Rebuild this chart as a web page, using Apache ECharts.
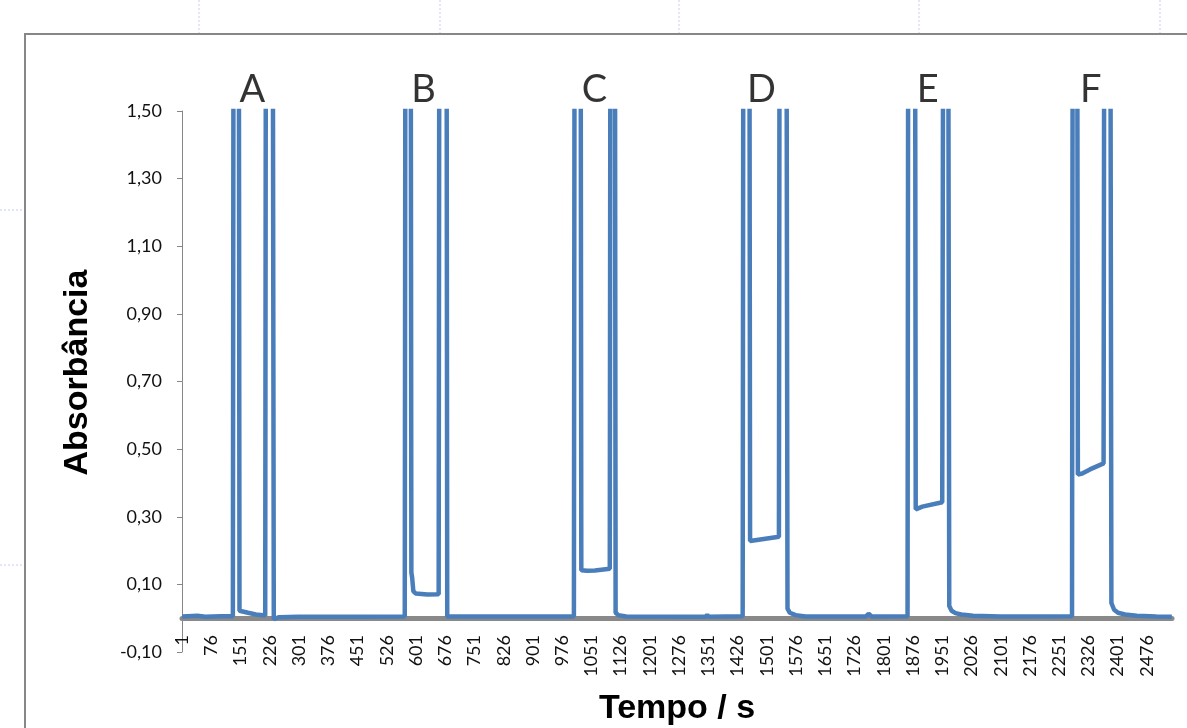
<!DOCTYPE html>
<html>
<head>
<meta charset="utf-8">
<script src="https://cdn.jsdelivr.net/npm/echarts@6/dist/echarts.min.js"></script>
<style>
  html, body { margin: 0; padding: 0; background: #fff; }
  #chart { width: 1187px; height: 728px; }
</style>
</head>
<body>
<div id="chart"></div>
<script>
// pontos (tempo em s, absorbância); valores > 1,50 saem da escala
var tempo = [
  1, 40, 60, 100, 131,
  133, 146, 148, 170, 190, 214, 216, 233, 236, 250, 300, 450, 455, 460, 572,
  574, 587, 589, 591, 594, 600, 630, 659, 661, 679, 681, 800, 1006,
  1008, 1023, 1025, 1040, 1060, 1098, 1100, 1111, 1113, 1120, 1140, 1300, 1344, 1348, 1352, 1439,
  1441, 1456, 1458, 1480, 1532, 1534, 1551, 1554, 1560, 1575, 1600, 1755, 1762, 1770, 1862,
  1864, 1881, 1883, 1900, 1951, 1954, 1966, 1969, 1975, 1985, 2000, 2030, 2100, 2284,
  2286, 2297, 2299, 2310, 2330, 2365, 2367, 2382, 2385, 2392, 2402, 2420, 2450, 2500, 2540
];
var absorbancia = [
  0.005, 0.007, 0.004, 0.006, 0.006,
  2.2, 2.2, 0.022, 0.016, 0.011, 0.008, 2.2, 2.2, -0.003, 0.003, 0.004, 0.004, 0.008, 0.004, 0.005,
  2.2, 2.2, 0.135, 0.12, 0.08, 0.073, 0.07, 0.071, 2.2, 2.2, 0.005, 0.005, 0.005,
  2.2, 2.2, 0.142, 0.14, 0.141, 0.146, 2.2, 2.2, 0.016, 0.009, 0.005, 0.004, 0.004, 0.01, 0.004, 0.006,
  2.2, 2.2, 0.228, 0.232, 0.241, 2.2, 2.2, 0.028, 0.016, 0.009, 0.005, 0.005, 0.013, 0.005, 0.006,
  2.2, 2.2, 0.322, 0.33, 0.343, 2.2, 2.2, 0.036, 0.022, 0.015, 0.011, 0.007, 0.005, 0.006,
  2.2, 2.2, 0.425, 0.428, 0.44, 0.458, 2.2, 2.2, 0.045, 0.025, 0.016, 0.011, 0.007, 0.005, 0.004
];

var xTicks = [1, 76, 151, 226, 301, 376, 451, 526, 601, 676, 751, 826, 901, 976,
  1051, 1126, 1201, 1276, 1351, 1426, 1501, 1576, 1651, 1726, 1801, 1876, 1951,
  2026, 2101, 2176, 2251, 2326, 2401, 2476];
var yTicks = [-0.1, 0.1, 0.3, 0.5, 0.7, 0.9, 1.1, 1.3, 1.5];

var letras = ['A', 'B', 'C', 'D', 'E', 'F'];
var letraTempo = [181, 620, 1059, 1487, 1914, 2332];

var chart = echarts.init(document.getElementById('chart'));

var serie = tempo.map(function (t, i) { return [t, absorbancia[i]]; });
var letraPts = letraTempo.map(function (t, i) { return { value: [t, 1.5], name: letras[i] }; });

var labelFont = 'Lato, "DejaVu Sans", sans-serif';

var option = {
  backgroundColor: '#fff',
  animation: false,
  grid: { left: 182, right: 15, top: 111, bottom: 76, containLabel: false, outerBoundsMode: 'none' },
  xAxis: {
    type: 'value',
    min: 0.5,
    max: 2540.5,
    name: 'Tempo / s',
    nameLocation: 'middle',
    nameGap: 40,
    nameMoveOverlap: false,
    nameTextStyle: { fontFamily: '"Liberation Sans", Arial, sans-serif', fontWeight: 'bold', fontSize: 34, color: '#000' },
    axisLine: { onZero: true, lineStyle: { color: '#898989', width: 5 } },
    axisTick: { show: false },
    splitLine: { show: false },
    axisLabel: {
      customValues: xTicks,
      rotate: 90,
      margin: -17,
      fontFamily: labelFont,
      fontSize: 18,
      color: '#111',
      formatter: function (v) { return String(v); }
    }
  },
  yAxis: {
    type: 'value',
    min: -0.1,
    max: 1.5,
    name: 'Absorbância',
    nameLocation: 'middle',
    nameGap: 87,
    nameMoveOverlap: false,
    nameTextStyle: { fontFamily: '"Liberation Sans", Arial, sans-serif', fontWeight: 'bold', fontSize: 34, color: '#000', padding: [0, 0, 0, 18] },
    axisLine: { show: true, lineStyle: { color: '#868686', width: 1 } },
    axisTick: { show: true, customValues: yTicks, length: 5, lineStyle: { color: '#868686' } },
    splitLine: { show: false },
    axisLabel: {
      customValues: yTicks,
      margin: 20,
      fontFamily: labelFont,
      fontSize: 18,
      color: '#111',
      formatter: function (v) { return v.toFixed(2).replace('.', ','); }
    }
  },
  series: [
    {
      type: 'line',
      data: serie,
      showSymbol: false,
      clip: true,
      lineStyle: { color: '#4a7ebb', width: 4.5 },
      itemStyle: { color: '#4a7ebb' }
    },
    {
      type: 'scatter',
      data: letraPts,
      symbolSize: 0,
      clip: false,
      silent: true,
      label: {
        show: true,
        position: 'top',
        distance: 2,
        formatter: '{b}',
        fontFamily: labelFont,
        fontSize: 38,
        color: '#000'
      }
    }
  ],
  graphic: [
    { type: 'rect', shape: { x: 25, y: 34, width: 1200, height: 760 }, style: { fill: null, stroke: '#878787', lineWidth: 2 }, silent: true },
    { type: 'line', shape: { x1: 199, y1: 0, x2: 199, y2: 33 }, style: { stroke: '#c5cdf2', lineDash: [2, 2], lineWidth: 1 } },
    { type: 'line', shape: { x1: 440, y1: 0, x2: 440, y2: 33 }, style: { stroke: '#c5cdf2', lineDash: [2, 2], lineWidth: 1 } },
    { type: 'line', shape: { x1: 679, y1: 0, x2: 679, y2: 33 }, style: { stroke: '#c5cdf2', lineDash: [2, 2], lineWidth: 1 } },
    { type: 'line', shape: { x1: 919, y1: 0, x2: 919, y2: 33 }, style: { stroke: '#c5cdf2', lineDash: [2, 2], lineWidth: 1 } },
    { type: 'line', shape: { x1: 1160, y1: 0, x2: 1160, y2: 33 }, style: { stroke: '#c5cdf2', lineDash: [2, 2], lineWidth: 1 } },
    { type: 'line', shape: { x1: 0, y1: 210, x2: 22, y2: 210 }, style: { stroke: '#c5cdf2', lineDash: [2, 2], lineWidth: 1 } },
    { type: 'line', shape: { x1: 0, y1: 565, x2: 22, y2: 565 }, style: { stroke: '#c5cdf2', lineDash: [2, 2], lineWidth: 1 } }
  ]
};

chart.setOption(option);
</script>
</body>
</html>
